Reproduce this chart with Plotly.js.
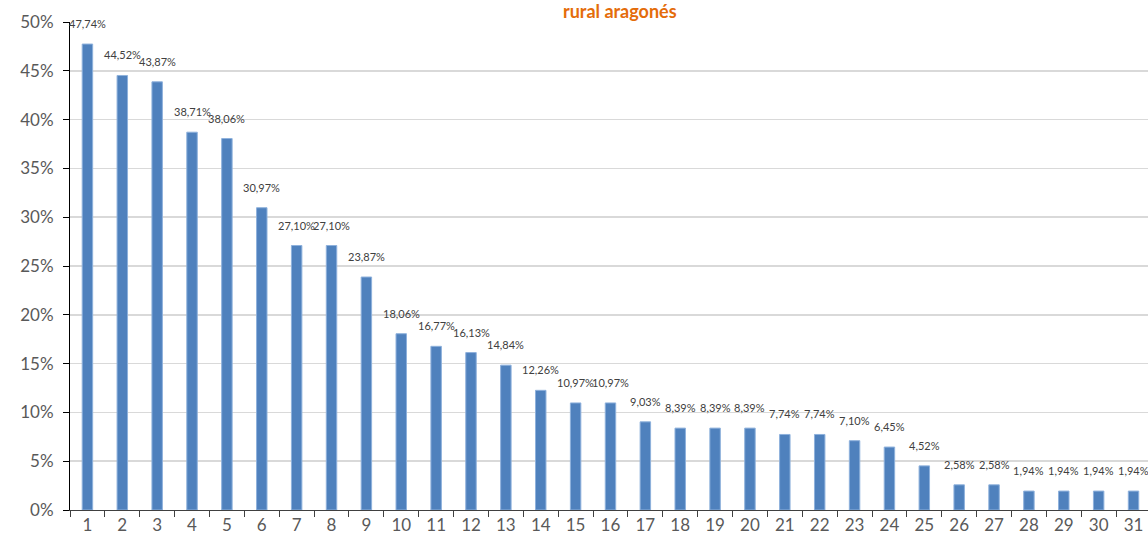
<!DOCTYPE html>
<html>
<head>
<meta charset="utf-8">
<script src="https://cdn.plot.ly/plotly-3.0.1.min.js"></script>
<style>html,body{margin:0;padding:0;background:#fff;overflow:hidden}#chart{width:1148px;height:544px}</style>
</head>
<body>
<div id="chart"></div>
<script>
const categories = ["1","2","3","4","5","6","7","8","9","10","11","12","13","14","15","16","17","18","19","20","21","22","23","24","25","26","27","28","29","30","31"];
const values = [47.74,44.52,43.87,38.71,38.06,30.97,27.10,27.10,23.87,18.06,16.77,16.13,14.84,12.26,10.97,10.97,9.03,8.39,8.39,8.39,7.74,7.74,7.10,6.45,4.52,2.58,2.58,1.94,1.94,1.94,1.94];
const titleText = "rural aragonés";

const FONT = "Lato, 'Open Sans', sans-serif";
const labels = values.map(v => v.toFixed(2).replace('.', ',') + '%');

const annotations = categories.map((c, i) => ({
  x: i, y: values[i], xref: 'x', yref: 'y',
  text: labels[i], showarrow: false,
  yanchor: 'bottom', yshift: 12,
  font: {family: FONT, size: 11, color: '#404040'}
}));

const trace = {
  type: 'bar', x: categories, y: values,
  width: 0.3,
  marker: {color: '#4F81BD', line: {color: '#8EB1DC', width: 1}},
  hoverinfo: 'skip'
};

const layout = {
  width: 1148, height: 544,
  margin: {l: 70, r: 0, t: 22, b: 34, pad: 0},
  paper_bgcolor: '#ffffff', plot_bgcolor: '#ffffff',
  showlegend: false,
  separators: ',.',
  title: {text: '<b>' + titleText + '</b>', x: 0.51, xanchor: 'center', xref: 'paper',
          y: 0.991, yref: 'container', yanchor: 'top',
          font: {family: FONT, size: 18, color: '#E46C0A'}},
  xaxis: {
    type: 'category', range: [-0.5, 30.415],
    tickson: 'boundaries', ticks: 'outside', ticklen: 6, tickcolor: '#404040',
    showgrid: false, showline: true, linecolor: '#404040', linewidth: 1,
    tickfont: {family: FONT, size: 17, color: '#595959'},
    zeroline: false, fixedrange: true
  },
  yaxis: {
    range: [0, 50], dtick: 5, tick0: 0, ticksuffix: '%',
    ticks: 'outside', ticklen: 6, tickcolor: '#000000',
    showgrid: true, gridcolor: '#D9D9D9', gridwidth: 1.5,
    showline: true, linecolor: '#000000', linewidth: 1,
    zeroline: false,
    tickfont: {family: FONT, size: 17, color: '#595959'},
    ticklabelstandoff: 6, fixedrange: true
  },
  annotations: annotations
};

Plotly.newPlot('chart', [trace], layout, {displayModeBar: false, staticPlot: true});
</script>
</body>
</html>
